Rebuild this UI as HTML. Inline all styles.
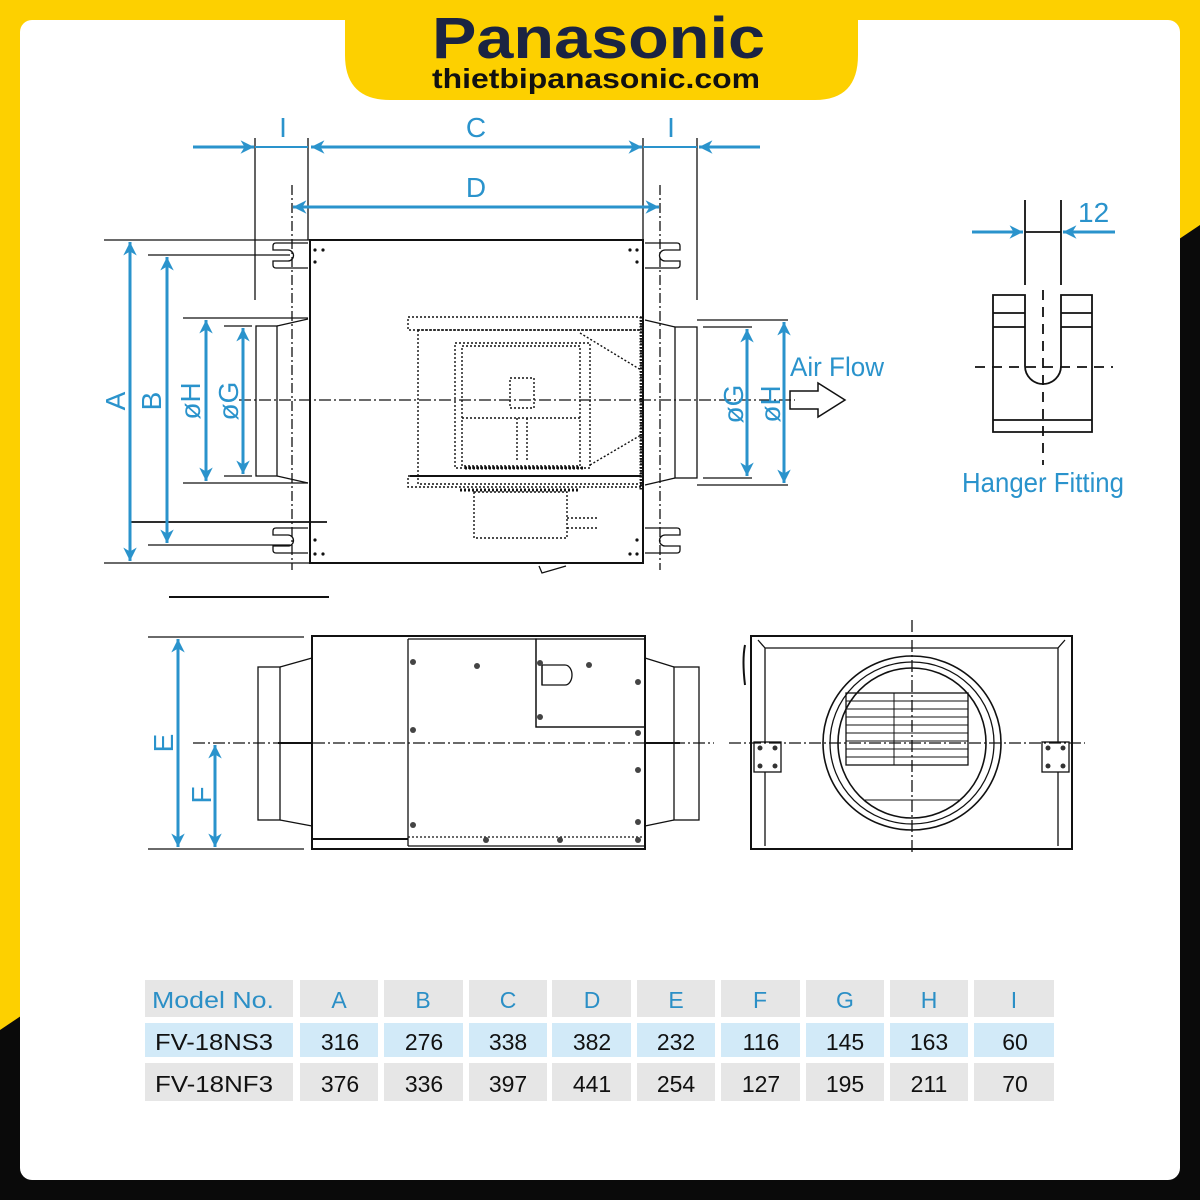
<!DOCTYPE html>
<html><head><meta charset="utf-8"><style>
html,body{margin:0;padding:0;width:1200px;height:1200px;overflow:hidden;background:#fff}
svg{display:block}
text{font-family:"Liberation Sans",sans-serif}
</style></head><body>
<svg width="1200" height="1200" viewBox="0 0 1200 1200" xmlns="http://www.w3.org/2000/svg">
<defs>
<marker id="ah" viewBox="0 0 10 10" refX="10" refY="5" markerWidth="5" markerHeight="4.5" orient="auto-start-reverse" markerUnits="strokeWidth"><path d="M0,0 L10,5 L0,10 L3,5 Z" fill="#2a93cc"/></marker>
</defs>
<!-- frame -->
<rect width="1200" height="1200" fill="#fdd000"/>
<polygon points="1200,225 1200,1200 0,1200 0,1030" fill="#0a0a0a"/>
<rect x="20" y="20" width="1160" height="1160" rx="12" fill="#fff"/>
<path d="M345,0 H858 V55 Q858,100 815,100 H390 Q345,100 345,55 Z" fill="#fdd000"/>
<text x="432" y="58" font-size="58" font-weight="bold" fill="#1b2442" textLength="333" lengthAdjust="spacingAndGlyphs">Panasonic</text>
<text x="432" y="88" font-size="28" font-weight="bold" fill="#111" textLength="328" lengthAdjust="spacingAndGlyphs">thietbipanasonic.com</text>

<g stroke="#111" fill="none" stroke-width="1.3">
<!-- ===== TOP VIEW ===== -->
<line x1="255" y1="138" x2="255" y2="300"/>
<line x1="308" y1="138" x2="308" y2="240"/>
<line x1="643" y1="138" x2="643" y2="240"/>
<line x1="697" y1="138" x2="697" y2="300"/>
<line x1="292" y1="185" x2="292" y2="570" stroke-dasharray="10,3,2,3"/>
<line x1="660" y1="185" x2="660" y2="570" stroke-dasharray="10,3,2,3"/>
<line x1="104" y1="240" x2="310" y2="240"/>
<line x1="148" y1="255" x2="290" y2="255"/>
<line x1="130" y1="522" x2="327" y2="522" stroke-width="1.8"/>
<line x1="148" y1="545" x2="290" y2="545"/>
<line x1="104" y1="563" x2="310" y2="563"/>
<line x1="169" y1="597" x2="329" y2="597" stroke-width="2"/>
<rect x="310" y="240" width="333" height="323" stroke-width="2"/>
<!-- brackets -->
<path d="M308,243 H276 Q273,243 273,246 V250 H288 A5,5 0 0 1 288,261 H273 V265 Q273,268 276,268 H308"/>
<path d="M308,528 H276 Q273,528 273,531 V535 H288 A5,5 0 0 1 288,546 H273 V550 Q273,553 276,553 H308"/>
<path d="M645,243 H677 Q680,243 680,246 V250 H665 A5,5 0 0 0 665,261 H680 V265 Q680,268 677,268 H645"/>
<path d="M645,528 H677 Q680,528 680,531 V535 H665 A5,5 0 0 0 665,546 H680 V550 Q680,553 677,553 H645"/>
<!-- left duct -->
<rect x="256" y="326" width="21" height="150"/>
<path d="M277,326 L308,319 M277,476 L308,483"/>
<line x1="183" y1="318" x2="308" y2="318"/>
<line x1="183" y1="483" x2="308" y2="483"/>
<line x1="224" y1="326" x2="252" y2="326"/>
<line x1="224" y1="476" x2="252" y2="476"/>
<!-- right duct -->
<rect x="675" y="327" width="22" height="151"/>
<path d="M645,320 L675,327 M645,485 L675,478"/>
<line x1="697" y1="320" x2="788" y2="320"/>
<line x1="697" y1="485" x2="788" y2="485"/>
<line x1="703" y1="327" x2="752" y2="327"/>
<line x1="703" y1="478" x2="752" y2="478"/>
<!-- centerline -->
<line x1="239" y1="400" x2="795" y2="400" stroke-dasharray="12,3,2,3"/>
<!-- internals dotted -->
<g stroke-dasharray="2,2" stroke-width="1.4">
<rect x="408" y="317" width="233" height="13"/>
<rect x="418" y="330" width="223" height="154"/>
<rect x="455" y="343" width="135" height="125"/>
<rect x="462" y="346" width="118" height="120"/>
<rect x="474" y="492" width="93" height="46"/>
<line x1="580" y1="333" x2="641" y2="370"/>
<line x1="590" y1="465" x2="641" y2="435"/>
<line x1="462" y1="418" x2="580" y2="418"/>
<rect x="510" y="378" width="24" height="30"/>
<line x1="517" y1="418" x2="517" y2="460"/>
<line x1="527" y1="418" x2="527" y2="460"/>
<rect x="408" y="476" width="233" height="11"/>
<line x1="460" y1="490" x2="580" y2="490" stroke-width="3"/>
<line x1="465" y1="468" x2="585" y2="468" stroke-width="3"/>
<line x1="567" y1="518" x2="598" y2="518"/>
<line x1="567" y1="528" x2="598" y2="528"/>
</g>
<line x1="410" y1="476" x2="641" y2="476" stroke-width="2"/>
<line x1="641" y1="317" x2="641" y2="490" stroke-width="3" stroke-dasharray="1.5,1.5"/>
<path d="M539,566 L542,573 L566,566"/>
<g fill="#111" stroke="none">
<circle cx="315" cy="250" r="1.6"/><circle cx="323" cy="250" r="1.6"/><circle cx="315" cy="262" r="1.6"/>
<circle cx="630" cy="250" r="1.6"/><circle cx="637" cy="250" r="1.6"/><circle cx="637" cy="262" r="1.6"/>
<circle cx="315" cy="540" r="1.6"/><circle cx="315" cy="554" r="1.6"/><circle cx="323" cy="554" r="1.6"/>
<circle cx="637" cy="540" r="1.6"/><circle cx="637" cy="554" r="1.6"/><circle cx="630" cy="554" r="1.6"/>
</g>
<!-- Air flow arrow -->
<path d="M790,391 H818 V383 L845,400 L818,417 V409 H790 Z" stroke-width="1.5"/>

<!-- ===== HANGER FITTING ===== -->
<line x1="1025" y1="200" x2="1025" y2="285" stroke-width="1.8"/>
<line x1="1061" y1="200" x2="1061" y2="285" stroke-width="1.8"/>
<line x1="1025" y1="232" x2="1061" y2="232" stroke-width="1.8"/>
<path d="M993,295 H1025 V366 A18,18 0 0 0 1061,366 V295 H1092 V432 H993 Z" stroke-width="1.8"/>
<path d="M993,313 H1025 M993,327 H1025 M1061,313 H1092 M1061,327 H1092 M993,420 H1092" stroke-width="1.8"/>
<line x1="1043" y1="290" x2="1043" y2="465" stroke-dasharray="10,7" stroke-width="1.8"/>
<line x1="975" y1="367" x2="1113" y2="367" stroke-dasharray="10,7" stroke-width="1.8"/>

<!-- ===== SIDE VIEW ===== -->
<line x1="148" y1="637" x2="304" y2="637"/>
<line x1="148" y1="849" x2="304" y2="849"/>
<rect x="312" y="636" width="333" height="213" stroke-width="2"/>
<line x1="408" y1="639" x2="408" y2="846"/>
<path d="M408,639 H536 V727 H645"/>
<rect x="536" y="639" width="109" height="88"/>
<path d="M542,665 H565 A7,10 0 0 1 565,685 H542 Z"/>
<line x1="542" y1="665" x2="542" y2="685"/>
<line x1="312" y1="839" x2="408" y2="839" stroke-width="2"/>
<line x1="408" y1="837" x2="645" y2="837" stroke-dasharray="2,2"/>
<line x1="408" y1="846" x2="645" y2="846"/>
<rect x="258" y="667" width="22" height="153"/>
<path d="M280,667 L312,658 M280,820 L312,826"/>
<rect x="674" y="667" width="25" height="153"/>
<path d="M645,658 L674,667 M645,826 L674,820"/>
<line x1="193" y1="743" x2="714" y2="743" stroke-dasharray="12,3,2,3"/>
<line x1="278" y1="743" x2="312" y2="743" stroke-width="2"/>
<line x1="645" y1="743" x2="680" y2="743" stroke-width="2"/>
<g fill="#444" stroke="none">
<circle cx="413" cy="662" r="3"/><circle cx="477" cy="666" r="3"/><circle cx="540" cy="663" r="3"/><circle cx="589" cy="665" r="3"/>
<circle cx="540" cy="717" r="3"/><circle cx="638" cy="682" r="3"/><circle cx="638" cy="733" r="3"/>
<circle cx="413" cy="730" r="3"/><circle cx="638" cy="770" r="3"/><circle cx="638" cy="822" r="3"/>
<circle cx="413" cy="825" r="3"/><circle cx="486" cy="840" r="3"/><circle cx="560" cy="840" r="3"/><circle cx="638" cy="840" r="3"/>
</g>

<!-- ===== FRONT VIEW ===== -->
<rect x="751" y="636" width="321" height="213" stroke-width="2"/>
<path d="M758,640 L765,648 V846 M1065,640 L1058,648 V846 M765,648 H1058"/>
<path d="M745,645 Q742,660 745,685" stroke-width="2"/>
<ellipse cx="912" cy="743" rx="89" ry="87" stroke-width="1.6"/>
<ellipse cx="912" cy="743" rx="82" ry="81"/>
<ellipse cx="912" cy="743" rx="74" ry="75" stroke-width="1.6"/>
<rect x="846" y="693" width="122" height="72"/>
<g stroke-width="1">
<line x1="846" y1="701" x2="968" y2="701"/><line x1="846" y1="709" x2="968" y2="709"/><line x1="846" y1="717" x2="968" y2="717"/>
<line x1="846" y1="725" x2="968" y2="725"/><line x1="846" y1="733" x2="968" y2="733"/><line x1="846" y1="741" x2="968" y2="741"/>
<line x1="846" y1="749" x2="968" y2="749"/><line x1="846" y1="757" x2="968" y2="757"/>
<line x1="894" y1="693" x2="894" y2="765"/><line x1="865" y1="800" x2="960" y2="800"/>
</g>
<rect x="754" y="742" width="27" height="30" fill="#fff"/>
<rect x="1042" y="742" width="27" height="30" fill="#fff"/>
<g fill="#333" stroke="none">
<circle cx="760" cy="748" r="2.5"/><circle cx="775" cy="748" r="2.5"/><circle cx="760" cy="766" r="2.5"/><circle cx="775" cy="766" r="2.5"/>
<circle cx="1048" cy="748" r="2.5"/><circle cx="1063" cy="748" r="2.5"/><circle cx="1048" cy="766" r="2.5"/><circle cx="1063" cy="766" r="2.5"/>
</g>
<line x1="729" y1="743" x2="1085" y2="743" stroke-dasharray="12,3,2,3"/>
<line x1="912" y1="620" x2="912" y2="855" stroke-dasharray="12,3,2,3"/>
</g>

<!-- ===== DIMENSIONS (blue) ===== -->
<g stroke="#2a93cc" stroke-width="3" fill="none">
<line x1="193" y1="147" x2="254" y2="147" marker-end="url(#ah)"/>
<line x1="255" y1="147" x2="308" y2="147" stroke-width="2"/>
<line x1="311" y1="147" x2="642" y2="147" marker-start="url(#ah)" marker-end="url(#ah)"/>
<line x1="643" y1="147" x2="697" y2="147" stroke-width="2"/>
<line x1="760" y1="147" x2="699" y2="147" marker-end="url(#ah)"/>
<line x1="293" y1="207" x2="659" y2="207" marker-start="url(#ah)" marker-end="url(#ah)"/>
<line x1="130" y1="242" x2="130" y2="561" marker-start="url(#ah)" marker-end="url(#ah)"/>
<line x1="167" y1="257" x2="167" y2="543" marker-start="url(#ah)" marker-end="url(#ah)"/>
<line x1="206" y1="320" x2="206" y2="481" marker-start="url(#ah)" marker-end="url(#ah)"/>
<line x1="243" y1="328" x2="243" y2="474" marker-start="url(#ah)" marker-end="url(#ah)"/>
<line x1="747" y1="329" x2="747" y2="476" marker-start="url(#ah)" marker-end="url(#ah)"/>
<line x1="784" y1="322" x2="784" y2="483" marker-start="url(#ah)" marker-end="url(#ah)"/>
<line x1="972" y1="232" x2="1023" y2="232" marker-end="url(#ah)"/>
<line x1="1115" y1="232" x2="1063" y2="232" marker-end="url(#ah)"/>
<line x1="178" y1="639" x2="178" y2="847" marker-start="url(#ah)" marker-end="url(#ah)"/>
<line x1="215" y1="745" x2="215" y2="847" marker-start="url(#ah)" marker-end="url(#ah)"/>
</g>
<g fill="#2a93cc" font-size="28">
<text x="283" y="137" text-anchor="middle">I</text>
<text x="476" y="137" text-anchor="middle">C</text>
<text x="671" y="137" text-anchor="middle">I</text>
<text x="476" y="197" text-anchor="middle">D</text>
<text transform="translate(125,401) rotate(-90)" text-anchor="middle">A</text>
<text transform="translate(161,401) rotate(-90)" text-anchor="middle">B</text>
<text transform="translate(200,401) rotate(-90)" text-anchor="middle">øH</text>
<text transform="translate(238,401) rotate(-90)" text-anchor="middle">øG</text>
<text transform="translate(743,404) rotate(-90)" text-anchor="middle">øG</text>
<text transform="translate(780,404) rotate(-90)" text-anchor="middle">øH</text>
<text transform="translate(173,743) rotate(-90)" text-anchor="middle">E</text>
<text transform="translate(211,795) rotate(-90)" text-anchor="middle">F</text>
<text x="790" y="376" font-size="27" textLength="94" lengthAdjust="spacingAndGlyphs">Air Flow</text>
<text x="1078" y="222" font-size="28">12</text>
<text x="962" y="492" font-size="28" textLength="162" lengthAdjust="spacingAndGlyphs">Hanger Fitting</text>
</g>

<!-- ===== TABLE ===== -->
<g>
<rect x="145" y="980" width="148" height="37" fill="#e6e6e6"/>
<rect x="300" y="980" width="78" height="37" fill="#e6e6e6"/>
<rect x="384" y="980" width="79" height="37" fill="#e6e6e6"/>
<rect x="469" y="980" width="78" height="37" fill="#e6e6e6"/>
<rect x="552" y="980" width="79" height="37" fill="#e6e6e6"/>
<rect x="637" y="980" width="78" height="37" fill="#e6e6e6"/>
<rect x="721" y="980" width="79" height="37" fill="#e6e6e6"/>
<rect x="806" y="980" width="78" height="37" fill="#e6e6e6"/>
<rect x="890" y="980" width="78" height="37" fill="#e6e6e6"/>
<rect x="974" y="980" width="80" height="37" fill="#e6e6e6"/>

<rect x="145" y="1023" width="148" height="34" fill="#d2eaf8"/>
<rect x="300" y="1023" width="78" height="34" fill="#d2eaf8"/>
<rect x="384" y="1023" width="79" height="34" fill="#d2eaf8"/>
<rect x="469" y="1023" width="78" height="34" fill="#d2eaf8"/>
<rect x="552" y="1023" width="79" height="34" fill="#d2eaf8"/>
<rect x="637" y="1023" width="78" height="34" fill="#d2eaf8"/>
<rect x="721" y="1023" width="79" height="34" fill="#d2eaf8"/>
<rect x="806" y="1023" width="78" height="34" fill="#d2eaf8"/>
<rect x="890" y="1023" width="78" height="34" fill="#d2eaf8"/>
<rect x="974" y="1023" width="80" height="34" fill="#d2eaf8"/>

<rect x="145" y="1063" width="148" height="38" fill="#e6e6e6"/>
<rect x="300" y="1063" width="78" height="38" fill="#e6e6e6"/>
<rect x="384" y="1063" width="79" height="38" fill="#e6e6e6"/>
<rect x="469" y="1063" width="78" height="38" fill="#e6e6e6"/>
<rect x="552" y="1063" width="79" height="38" fill="#e6e6e6"/>
<rect x="637" y="1063" width="78" height="38" fill="#e6e6e6"/>
<rect x="721" y="1063" width="79" height="38" fill="#e6e6e6"/>
<rect x="806" y="1063" width="78" height="38" fill="#e6e6e6"/>
<rect x="890" y="1063" width="78" height="38" fill="#e6e6e6"/>
<rect x="974" y="1063" width="80" height="38" fill="#e6e6e6"/>
</g>
<g font-size="23" text-anchor="middle">
<g fill="#2b8fc6">
<text x="152" y="1008" text-anchor="start" textLength="122" lengthAdjust="spacingAndGlyphs">Model No.</text>
<text x="339" y="1008">A</text><text x="423" y="1008">B</text><text x="508" y="1008">C</text>
<text x="592" y="1008">D</text><text x="676" y="1008">E</text><text x="760" y="1008">F</text>
<text x="845" y="1008">G</text><text x="929" y="1008">H</text><text x="1014" y="1008">I</text>
</g>
<g fill="#111">
<text x="155" y="1050" text-anchor="start" textLength="118" lengthAdjust="spacingAndGlyphs">FV-18NS3</text>
<text x="340" y="1050">316</text><text x="424" y="1050">276</text><text x="508" y="1050">338</text>
<text x="592" y="1050">382</text><text x="676" y="1050">232</text><text x="761" y="1050">116</text>
<text x="845" y="1050">145</text><text x="929" y="1050">163</text><text x="1015" y="1050">60</text>
<text x="155" y="1092" text-anchor="start" textLength="118" lengthAdjust="spacingAndGlyphs">FV-18NF3</text>
<text x="340" y="1092">376</text><text x="424" y="1092">336</text><text x="508" y="1092">397</text>
<text x="592" y="1092">441</text><text x="676" y="1092">254</text><text x="761" y="1092">127</text>
<text x="845" y="1092">195</text><text x="929" y="1092">211</text><text x="1015" y="1092">70</text>
</g>
</g>
</svg>
</body></html>
